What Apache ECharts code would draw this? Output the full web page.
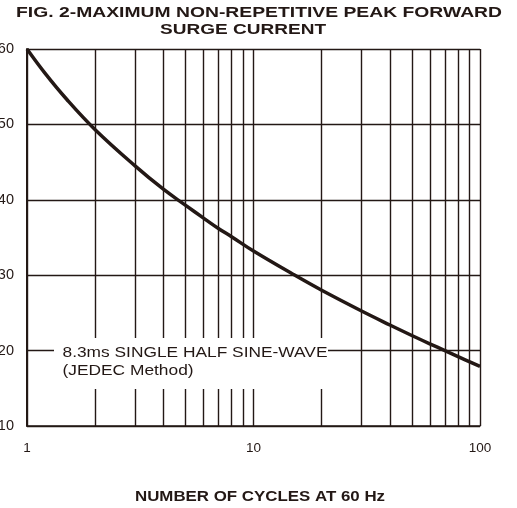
<!DOCTYPE html>
<html>
<head>
<meta charset="utf-8">
<script src="https://cdn.jsdelivr.net/npm/echarts@6/dist/echarts.min.js"></script>
<style>html,body{margin:0;padding:0;background:#fff;}#c{width:517px;height:508px;}</style>
</head>
<body>
<div id="c"></div>
<script>
const titleLines = ['FIG. 2-MAXIMUM NON-REPETITIVE PEAK FORWARD', 'SURGE CURRENT'];
const xAxisName = 'NUMBER OF CYCLES AT 60 Hz';
const noteLines = ['8.3ms SINGLE HALF SINE-WAVE', '(JEDEC Method)'];
const cycles  = [1, 1.2, 1.5, 2, 3, 4, 5, 6, 7, 8, 10, 15, 20, 30, 40, 50, 60, 70, 80, 100];
const current = [60, 56.8, 53.3, 49.3, 44.5, 41.4, 39.3, 37.6, 36.2, 35.1, 33.2, 30.1, 28.0, 25.25, 23.4, 22.0, 20.9, 20.0, 19.2, 17.9];
const minorGridX = [2, 3, 4, 5, 6, 7, 8, 9, 20, 30, 40, 50, 60, 70, 80, 90];
const yTicks = [10, 20, 30, 40, 50, 60];

const ink = '#231815';
const FONT = 'Liberation Sans';
const mctx = document.createElement('canvas').getContext('2d');
function widthOf(text, font) { mctx.font = font; return mctx.measureText(text).width; }
function stretch(text, font, target) { return target / widthOf(text, font); }

const titleFont = 'bold 15px "' + FONT + '"';
const nameFont = 'bold 15.5px "' + FONT + '"';
const noteFont = '14px "' + FONT + '"';
const sT1 = stretch(titleLines[0], titleFont, 486);
const sT2 = stretch(titleLines[1], titleFont, 166);
const sName = stretch(xAxisName, nameFont, 250);
const sNote = stretch(noteLines[0], noteFont, 265);

const chart = echarts.init(document.getElementById('c'), null, {renderer: 'canvas'});
chart.setOption({
  animation: false,
  backgroundColor: '#fff',
  grid: {left: 27, right: 37, top: 49, bottom: 82, containLabel: false, outerBoundsMode: 'none'},
  xAxis: {
    type: 'log', logBase: 10, min: 1, max: 100,
    axisLine: {show: true, lineStyle: {color: ink, width: 1.5}},
    axisTick: {show: false},
    axisLabel: {margin: 15, fontFamily: FONT, fontSize: 13.5, color: ink},
    splitLine: {show: true, lineStyle: {color: ink, width: 1.4}}
  },
  yAxis: {
    type: 'value', min: 10, max: 60, interval: 10,
    axisLine: {show: true, lineStyle: {color: ink, width: 2}},
    axisTick: {show: false},
    axisLabel: {margin: 13, fontFamily: FONT, fontSize: 14.5, color: ink, formatter: v => yTicks.includes(v) ? String(v) : ''},
    splitLine: {show: true, lineStyle: {color: ink, width: 1.4}}
  },
  series: [{
    type: 'line',
    data: cycles.map((c, i) => [c, current[i]]),
    smooth: 0.4, symbol: 'none', z: 10,
    lineStyle: {color: ink, width: 3.5},
    markLine: {
      silent: true, symbol: 'none', label: {show: false},
      lineStyle: {color: ink, width: 1.4, type: 'solid'},
      emphasis: {disabled: true},
      data: minorGridX.map(v => ({xAxis: v})),
      z: 2
    }
  }],
  graphic: [
    {type: 'text', x: 16, y: 12.5, scaleX: sT1, z: 100,
     style: {text: titleLines[0], font: titleFont, fill: ink, textAlign: 'left', textVerticalAlign: 'middle'}},
    {type: 'text', x: 160, y: 29.5, scaleX: sT2, z: 100,
     style: {text: titleLines[1], font: titleFont, fill: ink, textAlign: 'left', textVerticalAlign: 'middle'}},
    {type: 'text', x: 135, y: 497, scaleX: sName, z: 100,
     style: {text: xAxisName, font: nameFont, fill: ink, textAlign: 'left', textVerticalAlign: 'middle'}},
    {type: 'rect', shape: {x: 54, y: 338, width: 274, height: 51}, z: 100, style: {fill: '#fff'}},
    {type: 'text', x: 62.5, y: 353.5, scaleX: sNote, z: 101,
     style: {text: noteLines[0], font: noteFont, fill: ink, textAlign: 'left', textVerticalAlign: 'middle'}},
    {type: 'text', x: 62.5, y: 371.5, scaleX: sNote, z: 101,
     style: {text: noteLines[1], font: noteFont, fill: ink, textAlign: 'left', textVerticalAlign: 'middle'}}
  ]
});
</script>
</body>
</html>
